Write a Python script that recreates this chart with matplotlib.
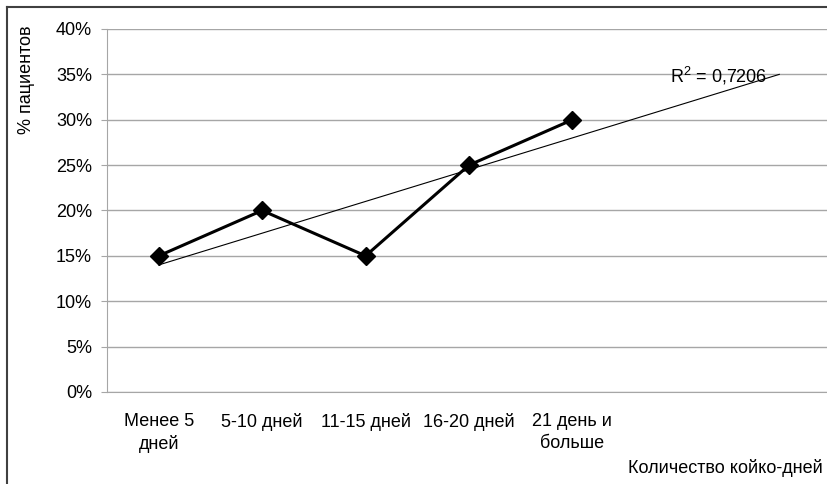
import numpy as np
import matplotlib
matplotlib.use("Agg")
import matplotlib.pyplot as plt
from matplotlib.lines import Line2D

plt.rcParams['font.family'] = ['Liberation Sans', 'DejaVu Sans']
plt.rcParams['mathtext.fontset'] = 'custom'
plt.rcParams['mathtext.rm'] = 'Liberation Sans'
plt.rcParams['mathtext.it'] = 'Liberation Sans'

categories = ["Менее 5\nдней", "5-10 дней", "11-15 дней", "16-20 дней", "21 день и\nбольше"]
values = [15, 20, 15, 25, 30]
y_ticks = [0, 5, 10, 15, 20, 25, 30, 35, 40]
y_labels = ["0%", "5%", "10%", "15%", "20%", "25%", "30%", "35%", "40%"]
forward_periods = 2

FS = 13
W, H = 828, 484
fig = plt.figure(figsize=(W / 100, H / 100), dpi=100)
ax = fig.add_axes([107 / W, (H - 392) / H, (831 - 107) / W, (392 - 29) / H])

x = np.arange(1, len(values) + 1)
ax.set_xlim(0.5, len(values) + forward_periods + 0.5)
ax.set_ylim(0, 40)

# gridlines
for t in y_ticks:
    ax.axhline(t, color='#a6a6a6', lw=1.0, zorder=1)

# linear trend
slope, intercept = np.polyfit(x, values, 1)
pred = slope * x + intercept
ss_res = np.sum((np.array(values) - pred) ** 2)
ss_tot = np.sum((np.array(values) - np.mean(values)) ** 2)
r2 = 1 - ss_res / ss_tot
xt = np.array([1, len(values) + forward_periods])
ax.plot(xt, slope * xt + intercept, color='black', lw=0.8, zorder=2)

# data series
ax.plot(x, values, color='black', lw=2.2, marker='D', markersize=9.5, zorder=3)

r2_text = ("R$^2$ = " + f"{r2:.4f}").replace('.', ',')
ax.text(len(values) + forward_periods - 0.59, slope * (len(values) + forward_periods) + intercept - 0.85,
        r2_text, ha='center', va='baseline', fontsize=FS, color='black', zorder=4)

for s in ['top', 'right']:
    ax.spines[s].set_visible(False)
ax.spines['left'].set_color('#a6a6a6')
ax.spines['bottom'].set_color('#a6a6a6')

ax.set_yticks(y_ticks)
ax.set_yticklabels(y_labels, fontsize=FS)
ax.tick_params(axis='y', length=4.3, color='#a6a6a6', pad=6.5)
ax.set_xticks(x)
ax.set_xticklabels(categories, fontsize=FS, linespacing=1.4)
ax.tick_params(axis='x', length=0, pad=15)

fig.text(27 / W, 1 - 80 / H, "% пациентов", rotation=90, ha='center', va='center', fontsize=FS)
fig.text(823 / W, 1 - 468 / H, "Количество койко-дней", ha='right', va='center', fontsize=FS)

# outer chart border (only top and left visible)
fig.add_artist(Line2D([7 / W, 1], [1 - 7 / H, 1 - 7 / H], color='#404040', lw=1.5, transform=fig.transFigure))
fig.add_artist(Line2D([7 / W, 7 / W], [0, 1 - 7 / H], color='#404040', lw=1.5, transform=fig.transFigure))

fig.savefig("out.png", dpi=100)
